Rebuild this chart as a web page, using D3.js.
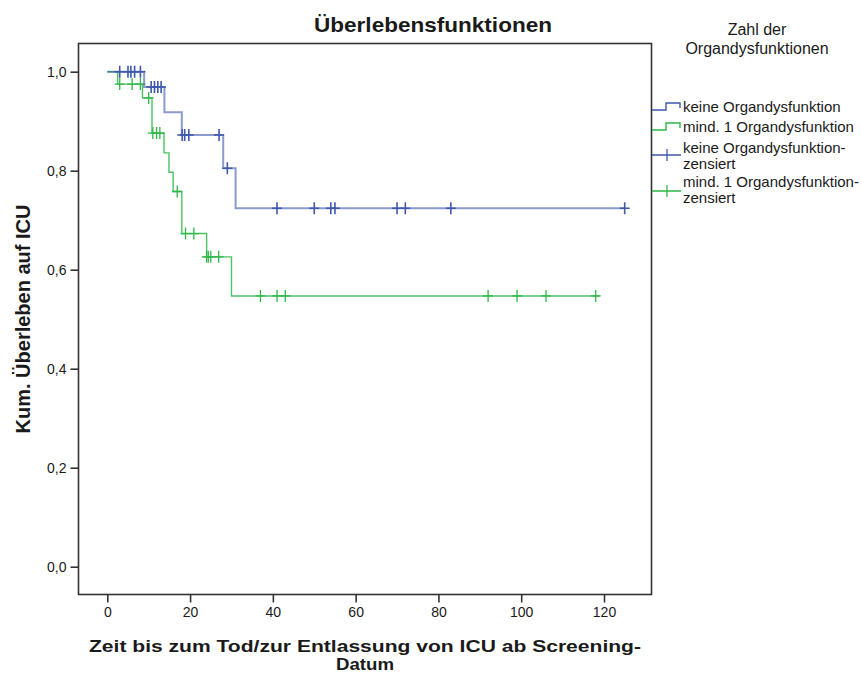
<!DOCTYPE html>
<html>
<head>
<meta charset="utf-8">
<script src="https://cdn.jsdelivr.net/npm/d3@7"></script>
<style>
    body { margin: 0; background: #fff; }
    text { font-family: "Liberation Sans", Arial, sans-serif; fill: #1a1a1a; }
</style>
</head>
<body>
<svg id="chart" width="861" height="674"></svg>
<script>
// keine Organdysfunktion
const blueTimes = [0, 8.9, 13.8, 18, 28, 31];
const blueSurv = [1.0, 0.969, 0.918, 0.872, 0.805, 0.724];
const blueEnd = 125;
const blueCensored = [3, 5, 5.7, 6.6, 8, 10.6, 11.4, 12.2, 13, 18.1, 18.7, 19.7, 27, 29,
    41, 50, 54, 55, 70, 72, 83, 125];

// mind. 1 Organdysfunktion
const greenTimes = [0, 2.5, 8.5, 10.8, 13.7, 14.9, 15.9, 18, 24, 30];
const greenSurv = [1.0, 0.975, 0.947, 0.876, 0.836, 0.797, 0.758, 0.673, 0.626, 0.547];
const greenEnd = 119;
const greenCensored = [3, 6, 8, 10, 11, 11.9, 12.7, 16.9, 18.9, 20.9, 24, 24.4, 25, 26.9,
    37, 41, 43, 92, 99, 106, 118];

const xTicks = [0, 20, 40, 60, 80, 100, 120];
const yTicks = [0, 0.2, 0.4, 0.6, 0.8, 1.0];

const legendItems = [
    { label: ["keine Organdysfunktion"], color: "#3e58ac", kind: "step" },
    { label: ["mind. 1 Organdysfunktion"], color: "#2eb848", kind: "step" },
    { label: ["keine Organdysfunktion-", "zensiert"], color: "#3e58ac", kind: "cross" },
    { label: ["mind. 1 Organdysfunktion-", "zensiert"], color: "#2eb848", kind: "cross" }
];

const svg = d3.select("#chart");

const frame = { left: 78.5, right: 651.5, top: 43.5, bottom: 594.5 };

const x = d3.scaleLinear().domain([0, 120]).range([107.3, 604]);
const y = d3.scaleLinear().domain([0, 1]).range([566.7, 71.7]);

// frame
svg.append("rect")
    .attr("x", frame.left)
    .attr("y", frame.top)
    .attr("width", frame.right - frame.left)
    .attr("height", frame.bottom - frame.top)
    .attr("fill", "none")
    .attr("stroke", "#333")
    .attr("stroke-width", 1.6);

// axes
const xAxis = d3.axisBottom(x).tickValues(xTicks).tickSize(8).tickPadding(5);
const gx = svg.append("g")
    .attr("transform", `translate(0, ${frame.bottom})`)
    .call(xAxis);

const yAxis = d3.axisLeft(y)
    .tickValues(yTicks)
    .tickSize(8)
    .tickPadding(4)
    .tickFormat(d => d3.format(".1f")(d).replace(".", ","));
const gy = svg.append("g")
    .attr("transform", `translate(${frame.left}, 0)`)
    .call(yAxis);

[gx, gy].forEach(g => {
    g.select(".domain").remove();
    g.selectAll(".tick line").attr("stroke", "#333").attr("stroke-width", 1.6);
    g.selectAll(".tick text")
        .style("font-family", '"Liberation Sans", Arial, sans-serif')
        .style("font-size", "14px")
        .attr("fill", "#222");
});

// curves
const stepLine = d3.line()
    .x(d => x(d[0]))
    .y(d => y(d[1]))
    .curve(d3.curveStepAfter);

function drawGroup(times, surv, end, censored, color, lineWidth, lineOpacity, markWidth) {
    const pts = times.map((t, i) => [t, surv[i]]);
    pts.push([end, surv[surv.length - 1]]);

    svg.append("path")
        .attr("d", stepLine(pts))
        .attr("fill", "none")
        .attr("stroke", color)
        .attr("stroke-width", lineWidth)
        .attr("stroke-opacity", lineOpacity);

    const marks = censored.map(c => {
        const idx = d3.bisectRight(times, c) - 1;
        return [c, surv[idx]];
    });

    svg.append("g")
        .selectAll("path")
        .data(marks)
        .enter()
        .append("path")
        .attr("d", d => {
            const cx = x(d[0]);
            const cy = y(d[1]);
            return `M${cx},${cy - 6}V${cy + 6}M${cx - 5},${cy}H${cx + 5}`;
        })
        .attr("stroke", color)
        .attr("stroke-width", markWidth)
        .attr("fill", "none");
}

drawGroup(greenTimes, greenSurv, greenEnd, greenCensored, "#2eb848", 1.4, 0.85, 1.3);
drawGroup(blueTimes, blueSurv, blueEnd, blueCensored, "#3e58ac", 2, 0.6, 1.6);

// title
svg.append("text")
    .attr("x", 433)
    .attr("y", 32)
    .attr("text-anchor", "middle")
    .attr("textLength", 238)
    .attr("lengthAdjust", "spacingAndGlyphs")
    .style("font-size", "21px")
    .style("font-weight", "bold")
    .text("Überlebensfunktionen");

// axis titles
svg.append("text")
    .attr("transform", `translate(30, ${(frame.top + frame.bottom) / 2}) rotate(-90)`)
    .attr("text-anchor", "middle")
    .style("font-size", "20px")
    .style("font-weight", "bold")
    .text("Kum. Überleben auf ICU");

const xMid = (frame.left + frame.right) / 2;
svg.append("text")
    .attr("x", xMid)
    .attr("y", 652)
    .attr("text-anchor", "middle")
    .attr("textLength", 552)
    .attr("lengthAdjust", "spacingAndGlyphs")
    .style("font-size", "17px")
    .style("font-weight", "bold")
    .text("Zeit bis zum Tod/zur Entlassung von ICU ab Screening-");
svg.append("text")
    .attr("x", xMid)
    .attr("y", 670)
    .attr("text-anchor", "middle")
    .attr("textLength", 58)
    .attr("lengthAdjust", "spacingAndGlyphs")
    .style("font-size", "17px")
    .style("font-weight", "bold")
    .text("Datum");

// legend
const legend = svg.append("g");
legend.append("text")
    .attr("text-anchor", "middle")
    .style("font-size", "16px")
    .selectAll("tspan")
    .data(["Zahl der", "Organdysfunktionen"])
    .enter()
    .append("tspan")
    .attr("x", 757)
    .attr("y", (d, i) => 35 + i * 19)
    .text(d => d);

const itemTop = [112, 132, 153, 187];
legendItems.forEach((item, i) => {
    const base = itemTop[i];
    const g = legend.append("g");
    if (item.kind === "step") {
        const sy = base - 2;
        g.append("path")
            .attr("d", `M652,${sy}H666V${sy - 7}H680V${sy - 2}`)
            .attr("fill", "none")
            .attr("stroke", item.color)
            .attr("stroke-width", 1.4);
    } else {
        const cy = base + 2 + (i === 3 ? 2 : 0);
        g.append("path")
            .attr("d", `M652,${cy}H681M667,${cy - 6}V${cy + 6}`)
            .attr("fill", "none")
            .attr("stroke", item.color)
            .attr("stroke-width", 1.3);
    }
    g.append("text")
        .style("font-size", "15px")
        .selectAll("tspan")
        .data(item.label)
        .enter()
        .append("tspan")
        .attr("x", 683)
        .attr("y", (d, j) => base + j * 16)
        .text(d => d);
});
</script>
</body>
</html>
